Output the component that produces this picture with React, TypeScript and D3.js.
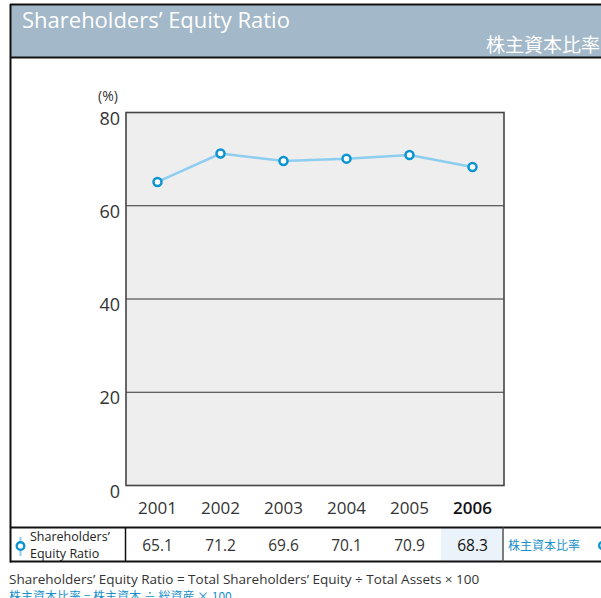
import React from "react";
import * as d3 from "d3";

const years = ["2001", "2002", "2003", "2004", "2005", "2006"];
const ratios = [65.1, 71.2, 69.6, 70.1, 70.9, 68.3];
const yTicks = [0, 20, 40, 60, 80];

const FONT = "'Open Sans', 'Noto Sans', sans-serif";
const JFONT = "'Noto Sans CJK JP', sans-serif";

export default function App() {
  const W = 601, H = 598;
  const left = 126, right = 504, top = 112.5, bottom = 485.5;
  const x = d3.scaleBand<string>().domain(years).range([left, right]);
  const y = d3.scaleLinear().domain([0, 80]).range([bottom, top]);
  const line = d3
    .line<number>()
    .x((_, i) => (x(years[i]) as number) + x.bandwidth() / 2)
    .y((d) => y(d));
  const tableTop = 527.5, tableBot = 561.5;
  const rowMid = (tableTop + tableBot) / 2;
  const fmt = d3.format(".1f");

  return (
    <svg
      width={W}
      height={H}
      style={{ position: "absolute", left: 0, top: 0 }}
      viewBox={`0 0 ${W} ${H}`}
    >
      <rect x={0} y={0} width={W} height={H} fill="#fff" />
      {/* header */}
      <rect x={11} y={5} width={W - 11} height={52} fill="#a3b8c8" />
      <line x1={10} x2={W} y1={4.5} y2={4.5} stroke="#111" strokeWidth={2} />
      <line x1={10} x2={W} y1={57.5} y2={57.5} stroke="#111" strokeWidth={2} />
      <line x1={10.5} x2={10.5} y1={4} y2={562.5} stroke="#111" strokeWidth={2} />
      <text x={22} y={28} fill="#fff" fontSize={22} fontFamily={FONT}>
        Shareholders’ Equity Ratio
      </text>
      <text x={486} y={52} fill="#fff" fontSize={19} fontFamily={JFONT}>
        株主資本比率
      </text>

      {/* plot */}
      <rect x={left} y={top} width={right - left} height={bottom - top} fill="#eeeeee" />
      {yTicks.slice(1, -1).map((t) => (
        <line key={t} x1={left} x2={right} y1={y(t)} y2={y(t)} stroke="#333" strokeWidth={1} />
      ))}
      <rect
        x={left}
        y={top}
        width={right - left}
        height={bottom - top}
        fill="none"
        stroke="#444"
        strokeWidth={1.6}
      />
      {yTicks.map((t) => (
        <text
          key={t}
          x={120}
          y={y(t) + 12}
          textAnchor="end"
          fontSize={18}
          fill="#333"
          fontFamily={FONT}
        >
          {t}
        </text>
      ))}
      <text x={108} y={101} textAnchor="middle" fontSize={14} fill="#333" fontFamily={FONT}>
        (%)
      </text>
      {years.map((yr, i) => (
        <text
          key={yr}
          x={(x(yr) as number) + x.bandwidth() / 2}
          y={514}
          textAnchor="middle"
          fontSize={17}
          fill={i === years.length - 1 ? "#111" : "#333"}
          fontWeight={i === years.length - 1 ? 600 : 400}
          fontFamily={FONT}
        >
          {yr}
        </text>
      ))}
      <path d={line(ratios) || ""} fill="none" stroke="#8dcdf0" strokeWidth={2.5} />
      {ratios.map((v, i) => (
        <circle
          key={i}
          cx={(x(years[i]) as number) + x.bandwidth() / 2}
          cy={y(v)}
          r={4}
          fill="#fff"
          stroke="#0a94d0"
          strokeWidth={2.5}
        />
      ))}

      {/* table */}
      <rect
        x={x("2006") as number}
        y={tableTop}
        width={x.bandwidth()}
        height={tableBot - tableTop}
        fill="#eaf3fa"
      />
      <line x1={10} x2={W} y1={tableTop} y2={tableTop} stroke="#111" strokeWidth={2} />
      <line x1={10} x2={W} y1={tableBot} y2={tableBot} stroke="#111" strokeWidth={2} />
      <line x1={125.5} x2={125.5} y1={tableTop} y2={tableBot} stroke="#111" strokeWidth={1.5} />
      <line x1={503} x2={503} y1={tableTop} y2={tableBot} stroke="#555" strokeWidth={1.5} />
      <line x1={20.5} x2={20.5} y1={537} y2={556} stroke="#8dcdf0" strokeWidth={2} />
      <circle cx={20.5} cy={546} r={3.8} fill="#fff" stroke="#0a94d0" strokeWidth={2.4} />
      <text x={30} y={540.5} fontSize={12.5} fill="#222" fontFamily={FONT}>
        Shareholders’
      </text>
      <text x={30} y={557.5} fontSize={12.5} fill="#222" fontFamily={FONT}>
        Equity Ratio
      </text>
      {ratios.map((v, i) => (
        <text
          key={i}
          x={(x(years[i]) as number) + x.bandwidth() / 2}
          y={rowMid + 6}
          textAnchor="middle"
          fontSize={15.5}
          fill={i === ratios.length - 1 ? "#111" : "#333"}
          fontFamily={FONT}
        >
          {fmt(v)}
        </text>
      ))}
      <text x={508} y={rowMid + 5} fontSize={12} fill="#1a8fc9" fontFamily={JFONT}>
        株主資本比率
      </text>
      <circle cx={603} cy={rowMid + 1} r={3.8} fill="#fff" stroke="#0a94d0" strokeWidth={2.4} />

      {/* footnotes */}
      <text x={9} y={584} fontSize={13.5} fill="#333" fontFamily={FONT}>
        Shareholders’ Equity Ratio = Total Shareholders’ Equity ÷ Total Assets × 100
      </text>
      <text x={9} y={601} fontSize={12} fill="#1a8fc9" fontFamily={JFONT}>
        株主資本比率 = 株主資本 ÷ 総資産 × 100
      </text>
    </svg>
  );
}
